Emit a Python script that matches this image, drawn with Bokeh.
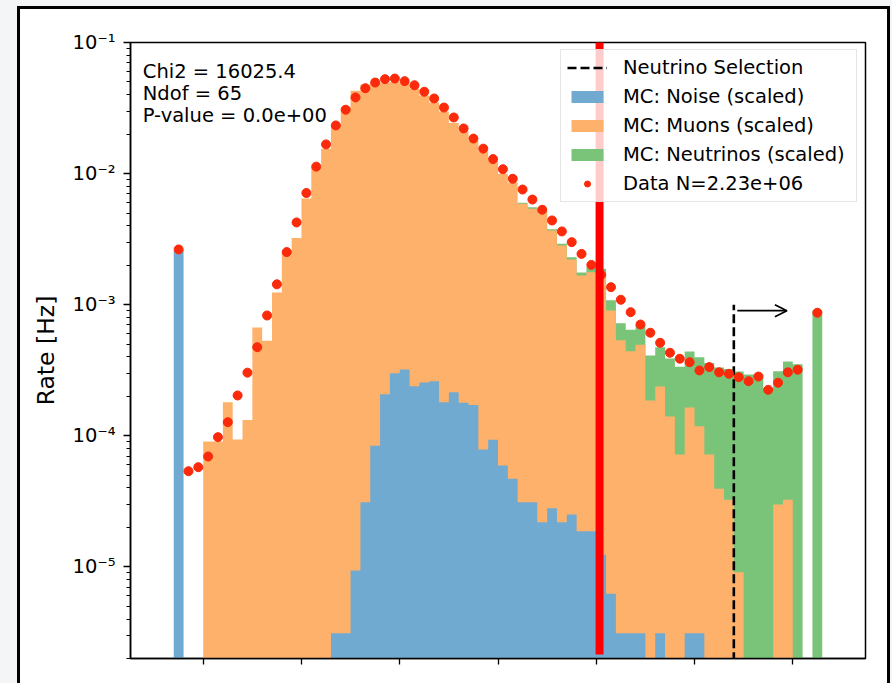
import numpy as np
from bokeh.plotting import figure
from bokeh.models import (Range1d, FixedTicker, CustomJSTickFormatter, Legend, LegendItem,
                          BoxAnnotation, Arrow, OpenHead, Label, ColumnDataSource, InlineStyleSheet)
from bokeh.embed import file_html
from bokeh.resources import INLINE

# ---------------- data ----------------
bin_start = -0.3
bin_width = 0.1
n_bins = 66

# visible top of each stacked layer, per bin (bins start at -0.3, width 0.1)
noise_top = [
    2.59e-3, 0, 0,
    0, 0, 0, 0, 0, 0, 0, 0, 0, 0, 0, 0, 0,
    3.12e-6, 3.12e-6, 9.39e-6, 3.11e-5, 8.39e-5, 2.07e-4, 3.00e-4, 3.20e-4, 2.39e-4, 2.55e-4,
    2.61e-4, 1.80e-4, 2.15e-4, 1.79e-4, 1.72e-4, 7.86e-5, 9.32e-5, 5.94e-5, 4.70e-5, 3.11e-5,
    3.11e-5, 2.19e-5, 2.80e-5, 2.19e-5, 2.51e-5, 1.87e-5, 1.87e-5, 1.24e-5, 6.23e-6, 3.12e-6,
    3.12e-6, 3.12e-6, 0, 3.12e-6, 0, 0, 3.12e-6, 3.12e-6,
    0, 0, 0, 0, 0, 0, 0, 0, 0, 0, 0, 0,
]
muons_top = [
    0, 0, 0,
    9.04e-5, 9.04e-5, 1.80e-4, 9.37e-5, 1.32e-4, 6.70e-4, 5.31e-4, 1.24e-3, 2.59e-3, 3.23e-3,
    6.46e-3, 1.10e-2, 1.55e-2, 2.36e-2, 3.21e-2, 4.28e-2, 4.78e-2, 4.82e-2, 4.95e-2, 5.00e-2,
    4.82e-2, 4.46e-2, 3.94e-2, 3.48e-2, 2.98e-2, 2.43e-2, 2.10e-2, 1.77e-2, 1.48e-2, 1.25e-2,
    9.97e-3, 8.55e-3, 5.88e-3, 5.39e-3, 5.08e-3, 3.68e-3, 2.83e-3, 2.21e-3, 1.67e-3, 1.77e-3,
    1.77e-3, 9.03e-4, 5.36e-4, 4.41e-4, 4.95e-4, 1.86e-4, 2.38e-4, 1.40e-4, 7.20e-5, 1.64e-4,
    1.18e-4, 7.20e-5, 3.94e-5, 3.25e-5, 9.11e-6, 0, 0, 0, 2.99e-5, 3.25e-5,
    0, 0, 0,
]
neutrinos_top = [
    0, 0, 0,
    0, 0, 0, 0, 0, 0, 0, 0, 0, 0, 0, 0, 0, 0, 0, 0, 0, 0, 0, 0, 0, 0, 0, 0, 0, 0, 0, 0, 0, 0, 0, 0,
    5.99e-3, 5.54e-3, 5.23e-3, 3.77e-3, 2.91e-3, 2.30e-3, 1.76e-3, 1.93e-3, 1.88e-3, 1.08e-3,
    7.23e-4, 6.43e-4, 6.94e-4, 4.10e-4, 4.74e-4, 3.89e-4, 3.36e-4, 4.40e-4, 3.98e-4, 3.59e-4,
    3.32e-4, 3.23e-4, 3.09e-4, 2.93e-4, 2.93e-4, 2.30e-4, 3.11e-4, 3.69e-4, 3.52e-4, 0,
    9.03e-4,
]
data_rate = [
    2.64e-3, 5.37e-5, 5.76e-5,
    6.95e-5, 9.76e-5, 1.27e-4, 2.03e-4, 3.03e-4, 4.74e-4, 8.27e-4, 1.43e-3, 2.52e-3, 4.24e-3,
    7.11e-3, 1.13e-2, 1.67e-2, 2.33e-2, 3.07e-2, 3.81e-2, 4.48e-2, 4.95e-2, 5.25e-2, 5.31e-2,
    5.07e-2, 4.72e-2, 4.21e-2, 3.74e-2, 3.19e-2, 2.68e-2, 2.21e-2, 1.85e-2, 1.55e-2, 1.29e-2,
    1.08e-2, 9.13e-3, 7.56e-3, 6.34e-3, 5.30e-3, 4.39e-3, 3.62e-3, 3.00e-3, 2.44e-3, 2.01e-3,
    1.69e-3, 1.36e-3, 1.09e-3, 8.77e-4, 7.06e-4, 6.11e-4, 5.12e-4, 4.30e-4, 3.87e-4, 3.64e-4,
    3.15e-4, 3.34e-4, 3.05e-4, 2.97e-4, 2.80e-4, 2.61e-4, 2.83e-4, 2.24e-4, 2.54e-4, 3.05e-4,
    3.19e-4, float("nan"), 8.68e-4,
]

x_ticks = [0, 1, 2, 3, 4, 5, 6]
y_ticks = [1e-5, 1e-4, 1e-3, 1e-2, 1e-1]

selection_x = 5.4          # neutrino selection cut
selection_top = 1.0e-3
arrow_y = 9.0e-4
arrow_end_x = 5.94
marker_line_x = (3.993, 4.074)   # thick red marker line

stats_lines = ["Chi2 = 16025.4", "Ndof = 65", "P-value = 0.0e+00"]
legend_labels = ["Neutrino Selection", "MC: Noise (scaled)", "MC: Muons (scaled)",
                 "MC: Neutrinos (scaled)", "Data N=2.23e+06"]

# ---------------- styling / layout ----------------
FONT = "DejaVu Sans"
C_NOISE = "#70aad1"
C_MUON = "#fdb16a"
C_NU = "#7ac47a"
C_DATA = "#fa2a0a"
FLOOR = 1e-8

W, H = 892, 683
FL, FR, FT, FB = 130, 865, 42, 658          # frame edges in pixels
X_LO, X_HI = -0.74, 6.74

edges = np.round(bin_start + bin_width * np.arange(n_bins + 1), 3)
centers = (edges[:-1] + edges[1:]) / 2


def step_polys(heights):
    h = np.asarray(heights, dtype=float)
    xs, ys = [], []
    i = 0
    while i < len(h):
        if h[i] > 0:
            j = i
            px, py = [edges[i]], [FLOOR]
            while j < len(h) and h[j] > 0:
                px += [edges[j], edges[j + 1]]
                py += [h[j], h[j]]
                j += 1
            px.append(edges[j])
            py.append(FLOOR)
            xs.append(px)
            ys.append(py)
            i = j
        else:
            i += 1
    return xs, ys


# outer page frame drawn with CSS on top of the canvas
frame_css = InlineStyleSheet(css="""
:host { position: relative; }
:host::after {
  content: "";
  position: absolute;
  left: 17px; top: 6px;
  width: 867px; height: 720px;
  border: 3px solid black;
  box-shadow: 0 0 0 60px #f4f5f7;
  pointer-events: none;
  z-index: 10;
}
""")

p = figure(width=W, height=H, y_axis_type="log",
           x_range=Range1d(X_LO, X_HI), y_range=Range1d(2.0e-6, 0.1),
           output_backend="svg", toolbar_location=None,
           min_border_left=FL, min_border_right=W - FR, min_border_top=FT, min_border_bottom=H - FB)
p.stylesheets = [frame_css]
p.border_fill_color = "white"
p.background_fill_color = "white"
p.xgrid.visible = False
p.ygrid.visible = False
p.outline_line_color = "black"
p.outline_line_width = 1.5
p.outline_line_alpha = 1

# histograms (stacked tops drawn back to front)
gx, gy = step_polys(neutrinos_top)
r_nu = p.patches(gx, gy, fill_color=C_NU, line_color=None)
ox, oy = step_polys(muons_top)
r_mu = p.patches(ox, oy, fill_color=C_MUON, line_color=None)
bx, by = step_polys(noise_top)
r_noise = p.patches(bx, by, fill_color=C_NOISE, line_color=None)

# selection line + arrow
r_sel = p.segment(x0=[selection_x], y0=[FLOOR], x1=[selection_x], y1=[selection_top],
                  line_color="black", line_width=2.6, line_dash="9 4")
p.add_layout(Arrow(x_start=selection_x + 0.035, y_start=arrow_y, x_end=arrow_end_x, y_end=arrow_y,
                   line_color="black", line_width=1.8,
                   end=OpenHead(size=12, line_color="black", line_width=1.8)))

# data
mask = ~np.isnan(np.asarray(data_rate, dtype=float))
src = ColumnDataSource(dict(x=centers[mask], y=np.asarray(data_rate, dtype=float)[mask]))
r_data = p.scatter("x", "y", source=src, size=9, fill_color=C_DATA, line_color=C_DATA)

# axes
yax = p.yaxis[0]
yax.ticker = FixedTicker(ticks=y_ticks,
                         minor_ticks=[m * 10.0 ** e for e in range(-6, -1) for m in range(2, 10)])
yax.formatter = CustomJSTickFormatter(code="""
const e = Math.round(Math.log10(tick));
const sup = {'-':'\u207b','0':'\u2070','1':'\u00b9','2':'\u00b2','3':'\u00b3','4':'\u2074','5':'\u2075','6':'\u2076','7':'\u2077','8':'\u2078','9':'\u2079'};
return '10' + String(e).split('').map(c => sup[c]).join('');
""")
yax.axis_label = "Rate [Hz]"
yax.axis_label_text_font = FONT
yax.axis_label_text_font_size = "23.5px"
yax.axis_label_text_font_style = "normal"
yax.axis_label_text_color = "black"
yax.axis_label_standoff = 10
yax.major_label_text_font = FONT
yax.major_label_text_font_size = "19.5px"
yax.major_label_text_color = "black"
yax.major_label_standoff = 8
yax.major_tick_out = 7
yax.major_tick_in = 0
yax.minor_tick_out = 4
yax.minor_tick_in = 0
yax.major_tick_line_width = 1.3
yax.minor_tick_line_width = 1.0
yax.axis_line_width = 1.5
yax.major_tick_line_color = "black"
yax.minor_tick_line_color = "black"
yax.axis_line_color = "black"

xax = p.xaxis[0]
xax.ticker = FixedTicker(ticks=x_ticks, minor_ticks=[])
xax.formatter = CustomJSTickFormatter(code="return '';")
xax.major_label_text_font_size = "1px"
xax.major_label_standoff = 0
xax.major_tick_out = 6
xax.major_tick_in = 0
xax.minor_tick_out = 0
xax.minor_tick_in = 0
xax.major_tick_line_width = 1.3
xax.axis_line_width = 1.5
xax.axis_line_color = "black"
xax.major_tick_line_color = "black"

# stats text
stats_y = [0.0600, 0.0408, 0.0277]
for txt, yy in zip(stats_lines, stats_y):
    p.add_layout(Label(x=-0.615, y=yy, text=txt, text_font=FONT, text_font_size="19.5px",
                       text_color="black", text_baseline="alphabetic"))

# legend
legend = Legend(items=[
    LegendItem(label=legend_labels[0], renderers=[r_sel]),
    LegendItem(label=legend_labels[1], renderers=[r_noise]),
    LegendItem(label=legend_labels[2], renderers=[r_mu]),
    LegendItem(label=legend_labels[3], renderers=[r_nu]),
    LegendItem(label=legend_labels[4], renderers=[r_data]),
], location=(560 - FL, FB - 202))
legend.label_text_font = FONT
legend.label_text_font_size = "19.5px"
legend.label_text_color = "black"
legend.label_width = 227
legend.glyph_width = 40
legend.glyph_height = 15
legend.label_standoff = 16
legend.padding = 6
legend.spacing = 6
legend.margin = 0
legend.border_line_color = "#cccccc"
legend.border_line_width = 1.5
legend.background_fill_alpha = 0.8
p.add_layout(legend)

# thick red marker line (crosses the top border)
p.add_layout(BoxAnnotation(left=marker_line_x[0], right=marker_line_x[1], top=0, bottom=2.15e-6,
                           top_units="canvas", fill_color="#ff0000", fill_alpha=1,
                           line_color=None, level="overlay"))

open("out.html", "w").write(file_html(p, INLINE))
